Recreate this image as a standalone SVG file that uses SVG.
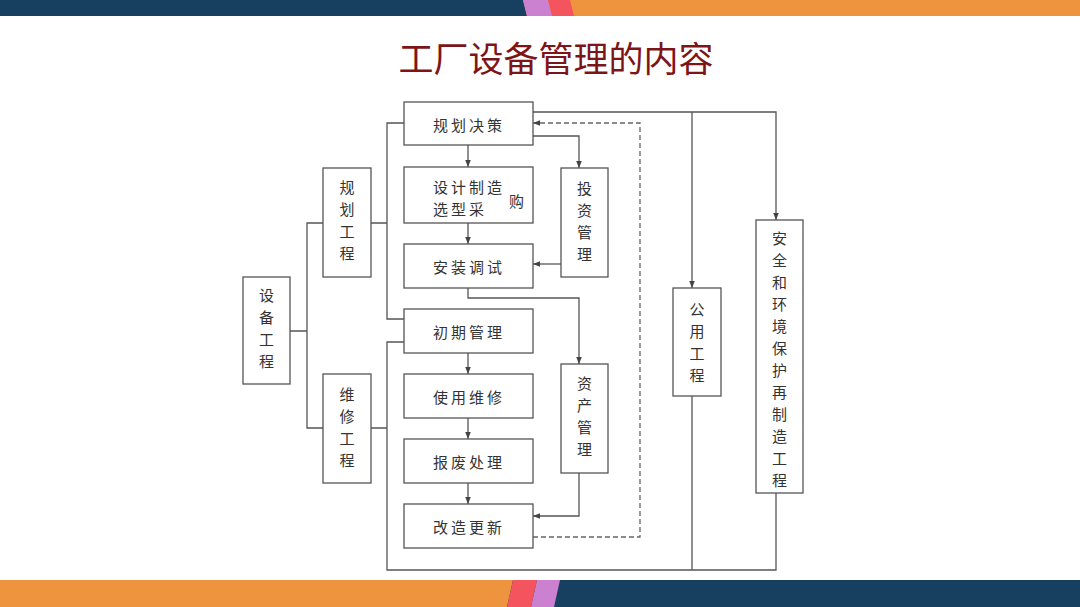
<svg xmlns="http://www.w3.org/2000/svg" width="1080" height="607" viewBox="0 0 1080 607">
<defs>
<style>
.box{fill:#fff;stroke:#555;stroke-width:1.3}
.ln{fill:none;stroke:#555;stroke-width:1.3}
.dash{fill:none;stroke:#666;stroke-width:1.3;stroke-dasharray:5,3}
.t{font-family:"Noto Sans CJK SC","Noto Sans",sans-serif;font-size:15px;fill:#333;dominant-baseline:central}
.h{letter-spacing:3px}
.v{text-anchor:middle}
.title{font-family:"Noto Sans CJK SC","Noto Sans",sans-serif;font-size:35px;fill:#7d1518;text-anchor:middle;dominant-baseline:central}
</style>
<marker id="arr" viewBox="0 0 10 10" refX="10" refY="5" markerWidth="7" markerHeight="7" markerUnits="userSpaceOnUse" orient="auto">
<path d="M0,1 L10,5 L0,9 z" fill="#444"/>
</marker>
</defs>
<rect width="1080" height="607" fill="#fff"/>
<g id="bands">
<rect x="0" y="0" width="1080" height="16" fill="#ee943f"/>
<polygon points="0,0 523,0 527,16 0,16" fill="#173f5f"/>
<polygon points="523,0 548,0 552,16 527,16" fill="#cc80d0"/>
<polygon points="548,0 570,0 574,16 552,16" fill="#f4545e"/>
<rect x="0" y="580" width="1080" height="27" fill="#173f5f"/>
<polygon points="0,580 513,580 507,607 0,607" fill="#ee943f"/>
<polygon points="513,580 537,580 531,607 507,607" fill="#f4545e"/>
<polygon points="537,580 560,580 554,607 531,607" fill="#cc80d0"/>
</g>
<text id="title" class="title" x="556" y="56">工厂设备管理的内容</text>
<g id="connectors">
<path class="ln" d="M290,331 H307 M323,223 H307 V428 H323"/>
<path class="ln" d="M371,223 H387 M404,123 H387 V319 H404"/>
<path class="ln" d="M371,428 H387 M404,342 H387 V570 H776 V493"/>
<path class="ln" d="M533,112 H776 V220" marker-end="url(#arr)"/>
<path class="ln" d="M692,112 V288" marker-end="url(#arr)"/>
<path class="ln" d="M692,396 V570"/>
<path class="dash" d="M533,537 H640 V123 H533" marker-end="url(#arr)"/>
<path class="ln" d="M468,145 V167" marker-end="url(#arr)"/>
<path class="ln" d="M468,223 V244" marker-end="url(#arr)"/>
<path class="ln" d="M468,353 V374" marker-end="url(#arr)"/>
<path class="ln" d="M468,418 V439" marker-end="url(#arr)"/>
<path class="ln" d="M468,483 V504" marker-end="url(#arr)"/>
<path class="ln" d="M533,136 H579 V168" marker-end="url(#arr)"/>
<path class="ln" d="M561,264 H533" marker-end="url(#arr)"/>
<path class="ln" d="M468,288 V298 H579 V364" marker-end="url(#arr)"/>
<path class="ln" d="M579,473 V516 H533" marker-end="url(#arr)"/>
</g>
<g id="node-shebei">
<rect class="box" x="243" y="277" width="47" height="107"/>
<text class="t v" x="266.5" y="294"><tspan x="266.5">设</tspan><tspan x="266.5" dy="22">备</tspan><tspan x="266.5" dy="22">工</tspan><tspan x="266.5" dy="22">程</tspan></text>
</g>
<g id="node-guihuagc">
<rect class="box" x="323" y="168" width="48" height="109"/>
<text class="t v" x="347" y="186"><tspan x="347">规</tspan><tspan x="347" dy="22">划</tspan><tspan x="347" dy="22">工</tspan><tspan x="347" dy="22">程</tspan></text>
</g>
<g id="node-weixiugc">
<rect class="box" x="323" y="374" width="48" height="109"/>
<text class="t v" x="347" y="393"><tspan x="347">维</tspan><tspan x="347" dy="22">修</tspan><tspan x="347" dy="22">工</tspan><tspan x="347" dy="22">程</tspan></text>
</g>
<g id="node-guihuajc">
<rect class="box" x="404" y="102" width="129" height="43"/>
<text class="t h" x="433" y="124">规划决策</text>
</g>
<g id="node-sheji">
<rect class="box" x="404" y="167" width="129" height="56"/>
<text class="t h" x="433" y="186"><tspan x="433">设计制造</tspan><tspan x="433" dy="22">选型采</tspan><tspan x="509" dy="-8" style="letter-spacing:0">购</tspan></text>
</g>
<g id="node-anzhuang">
<rect class="box" x="404" y="244" width="129" height="44"/>
<text class="t h" x="433" y="266">安装调试</text>
</g>
<g id="node-chuqi">
<rect class="box" x="404" y="309" width="129" height="44"/>
<text class="t h" x="433" y="331">初期管理</text>
</g>
<g id="node-shiyong">
<rect class="box" x="404" y="374" width="129" height="44"/>
<text class="t h" x="433" y="396">使用维修</text>
</g>
<g id="node-baofei">
<rect class="box" x="404" y="439" width="129" height="44"/>
<text class="t h" x="433" y="461">报废处理</text>
</g>
<g id="node-gaizao">
<rect class="box" x="404" y="504" width="129" height="44"/>
<text class="t h" x="433" y="526">改造更新</text>
</g>
<g id="node-touzi">
<rect class="box" x="561" y="168" width="47" height="109"/>
<text class="t v" x="584.5" y="187"><tspan x="584.5">投</tspan><tspan x="584.5" dy="22">资</tspan><tspan x="584.5" dy="22">管</tspan><tspan x="584.5" dy="22">理</tspan></text>
</g>
<g id="node-zichan">
<rect class="box" x="561" y="364" width="47" height="109"/>
<text class="t v" x="584.5" y="382"><tspan x="584.5">资</tspan><tspan x="584.5" dy="22">产</tspan><tspan x="584.5" dy="22">管</tspan><tspan x="584.5" dy="22">理</tspan></text>
</g>
<g id="node-gongyong">
<rect class="box" x="673" y="288" width="48" height="108"/>
<text class="t v" x="697" y="308"><tspan x="697">公</tspan><tspan x="697" dy="22">用</tspan><tspan x="697" dy="22">工</tspan><tspan x="697" dy="22">程</tspan></text>
</g>
<g id="node-anquan">
<rect class="box" x="756" y="220" width="47" height="273"/>
<text class="t v" x="779.5" y="237"><tspan x="779.5">安</tspan><tspan x="779.5" dy="22">全</tspan><tspan x="779.5" dy="22">和</tspan><tspan x="779.5" dy="22">环</tspan><tspan x="779.5" dy="22">境</tspan><tspan x="779.5" dy="22">保</tspan><tspan x="779.5" dy="22">护</tspan><tspan x="779.5" dy="22">再</tspan><tspan x="779.5" dy="22">制</tspan><tspan x="779.5" dy="22">造</tspan><tspan x="779.5" dy="22">工</tspan><tspan x="779.5" dy="22">程</tspan></text>
</g>
</svg>
